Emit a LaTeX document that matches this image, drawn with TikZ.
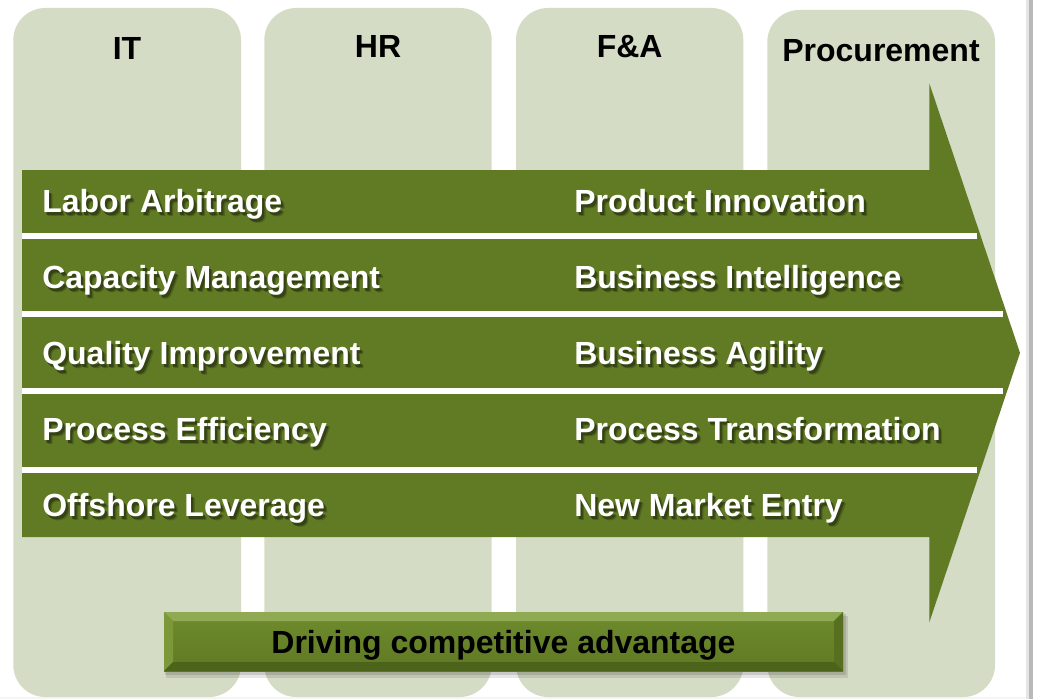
\documentclass[tikz,border=0pt]{standalone}
\usepackage{fontspec}
\setmainfont{Liberation Sans}
\definecolor{colfill}{HTML}{D5DCC5}
\definecolor{arrowgreen}{HTML}{617A24}
\definecolor{bevtop}{HTML}{8FAA52}
\definecolor{bevleft}{HTML}{7C9838}
\definecolor{bevright}{HTML}{56701F}
\definecolor{bevbottom}{HTML}{4C6419}
\definecolor{facetop}{HTML}{6F8C2D}
\definecolor{facebot}{HTML}{5F7923}
\colorlet{shadowfar}{arrowgreen!80!black}
\colorlet{shadownear}{arrowgreen!55!black}
% white label with a soft dark drop shadow behind it
\newcommand\txtshadow[1]{%
  \rlap{\kern2.7pt\raisebox{-2.9pt}{\color{shadowfar}#1}}%
  \rlap{\kern1.7pt\raisebox{-1.9pt}{\color{shadownear}#1}}#1}
\begin{document}
\begin{tikzpicture}[x=0.75pt,y=-0.75pt,
  bigfont/.style={font=\bfseries\fontsize{24}{28}\selectfont, inner sep=0pt},
  head/.style={bigfont, text=black, anchor=base},
  lbl/.style={bigfont, text=white, anchor=base west},
  column/.style={fill=colfill, rounded corners=24pt},
  separator/.style={draw=white, line width=4.5pt}]
\useasboundingbox (0,0) rectangle (1037,699);
\fill[white] (0,0) rectangle (1037,699);

% page edge on the right and at the bottom
\fill[gray!8] (0,696.5) rectangle (1030,699);
\fill[gray!20] (1026,0) rectangle (1028.5,699);
\fill[gray!55] (1028.5,0) rectangle (1033,699);

% four function columns
\fill[column] (13.3,8) rectangle (241,697);
\fill[column] (264.3,8) rectangle (491.7,697);
\fill[column] (516,8) rectangle (743.3,697);
\fill[column] (767.3,10) rectangle (995,697);

\node[head] (it)   at (127,60)   {IT};
\node[head] (hr)   at (378,58)   {HR};
\node[head] (fa)   at (629.7,58) {F\&A};
\node[head] (proc) at (881,61.5) {Procurement};

% big arrow
\fill[arrowgreen] (22,170) -- (929.3,170) -- (929.3,83.3) -- (1020,352.8)
  -- (929.3,622.3) -- (929.3,537) -- (22,537) -- cycle;

% white strip separators
\draw[separator] (22,236.3) -- (977,236.3);
\draw[separator] (22,313.7) -- (1003,313.7);
\draw[separator] (22,391.3) -- (1003,391.3);
\draw[separator] (22,469.7) -- (977,469.7);

% value labels
\foreach \n/\y/\tl/\tr in {
  1/212.5/Labor Arbitrage/Product Innovation,
  2/288.5/Capacity Management/Business Intelligence,
  3/364.5/Quality Improvement/Business Agility,
  4/440.5/Process Efficiency/Process Transformation,
  5/516.5/Offshore Leverage/New Market Entry}{
  \node[lbl] (left\n) at (42,\y) {\txtshadow{\tl}};
  \node[lbl] (right\n) at (574,\y) {\txtshadow{\tr}};
}

% bevelled banner at the bottom
\fill[black, opacity=0.10] (166,616) rectangle (848,678);
\fill[black, opacity=0.12] (165,614) rectangle (846,675);
\shade[top color=facetop, bottom color=facebot] (164,612) rectangle (843,671);
\fill[bevtop] (164,612) -- (843,612) -- (834,621) -- (173,621) -- cycle;
\fill[bevleft] (164,612) -- (173,621) -- (173,662) -- (164,671) -- cycle;
\fill[bevright] (843,612) -- (843,671) -- (834,662) -- (834,621) -- cycle;
\fill[bevbottom] (164,671) -- (843,671) -- (834,662) -- (173,662) -- cycle;
\node[head] (adv) at (503.5,653) {Driving competitive advantage};
\end{tikzpicture}
\end{document}
